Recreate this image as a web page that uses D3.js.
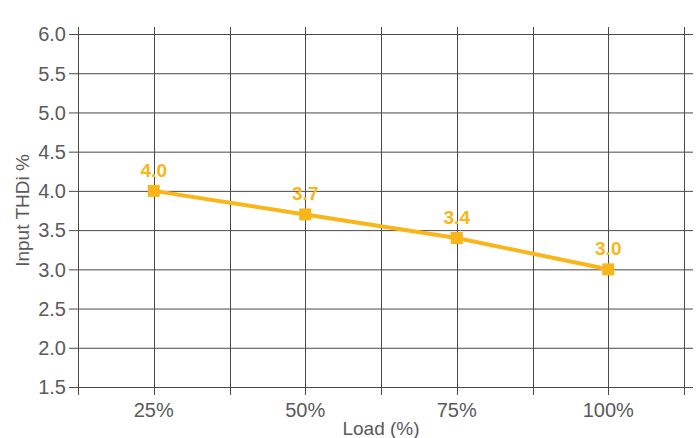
<!DOCTYPE html>
<html><head><meta charset="utf-8">
<script src="https://cdn.jsdelivr.net/npm/d3@7"></script>
<style>body{margin:0;background:#fff;} text{font-family:"Liberation Sans",Arial,sans-serif;}</style>
</head><body>
<svg id="c" width="699" height="438"></svg>
<script>
const categories = ["25%", "50%", "75%", "100%"];
const values = [4.0, 3.7, 3.4, 3.0];
const yTicks = [1.5, 2.0, 2.5, 3.0, 3.5, 4.0, 4.5, 5.0, 5.5, 6.0];

const svg = d3.select("#c");
const L = 78, R = 684, T = 34, B = 387;
const x = d3.scaleBand().domain(categories).range([L, R]).padding(0);
const y = d3.scaleLinear().domain([1.5, 6.0]).range([B, T]);
const gridCol = "#4a4a4a";
const textCol = "#5a5a5a";
const color = "#FAB518";

// horizontal grid + y ticks
const yAxis = d3.axisLeft(y).tickValues(yTicks).tickFormat(d3.format(".1f")).tickSize(9).tickPadding(4);
const gy = svg.append("g").attr("transform", `translate(${L},0)`).call(yAxis);
gy.select(".domain").remove();
gy.selectAll(".tick line").attr("stroke", gridCol).attr("x2", -9).attr("x1", 693 - L);
gy.selectAll(".tick text").attr("fill", textCol).attr("font-size", 20).attr("x", -12).attr("dy", "0.34em");

// vertical grid: band edges and centres
const vx = [];
categories.forEach(c => { vx.push(x(c)); vx.push(x(c) + x.bandwidth() / 2); });
vx.push(R);
svg.append("g").selectAll("line").data(vx).join("line")
  .attr("x1", d => Math.round(d) + 0.5).attr("x2", d => Math.round(d) + 0.5)
  .attr("y1", 27).attr("y2", 395).attr("stroke", gridCol);

// x axis labels
const xAxis = d3.axisBottom(x).tickSize(0).tickPadding(16);
const gx = svg.append("g").attr("transform", `translate(0,${B})`).call(xAxis);
gx.select(".domain").remove();
gx.selectAll(".tick text").attr("fill", textCol).attr("font-size", 20);

const cx = c => x(c) + x.bandwidth() / 2;
const pts = categories.map((c, i) => ({c, v: values[i]}));
svg.append("path").datum(pts)
  .attr("d", d3.line().x(d => cx(d.c)).y(d => y(d.v)))
  .attr("fill", "none").attr("stroke", color).attr("stroke-width", 4);
svg.append("g").selectAll("rect").data(pts).join("rect")
  .attr("x", d => cx(d.c) - 6).attr("y", d => y(d.v) - 6)
  .attr("width", 12).attr("height", 12).attr("fill", color);
svg.append("g").selectAll("text").data(pts).join("text")
  .attr("x", d => cx(d.c)).attr("y", d => y(d.v) - 14)
  .attr("text-anchor", "middle").attr("font-size", 19).attr("font-weight", "bold")
  .attr("fill", color).text(d => d.v.toFixed(1));

// axis titles
svg.append("text").attr("x", (L + R) / 2 ).attr("y", 435).attr("text-anchor", "middle")
  .attr("font-size", 19).attr("fill", textCol).text("Load (%)");
svg.append("text").attr("transform", `translate(29,${(T + B) / 2}) rotate(-90)`)
  .attr("text-anchor", "middle").attr("font-size", 19).attr("fill", textCol).text("Input THDi %");
</script>
</body></html>
